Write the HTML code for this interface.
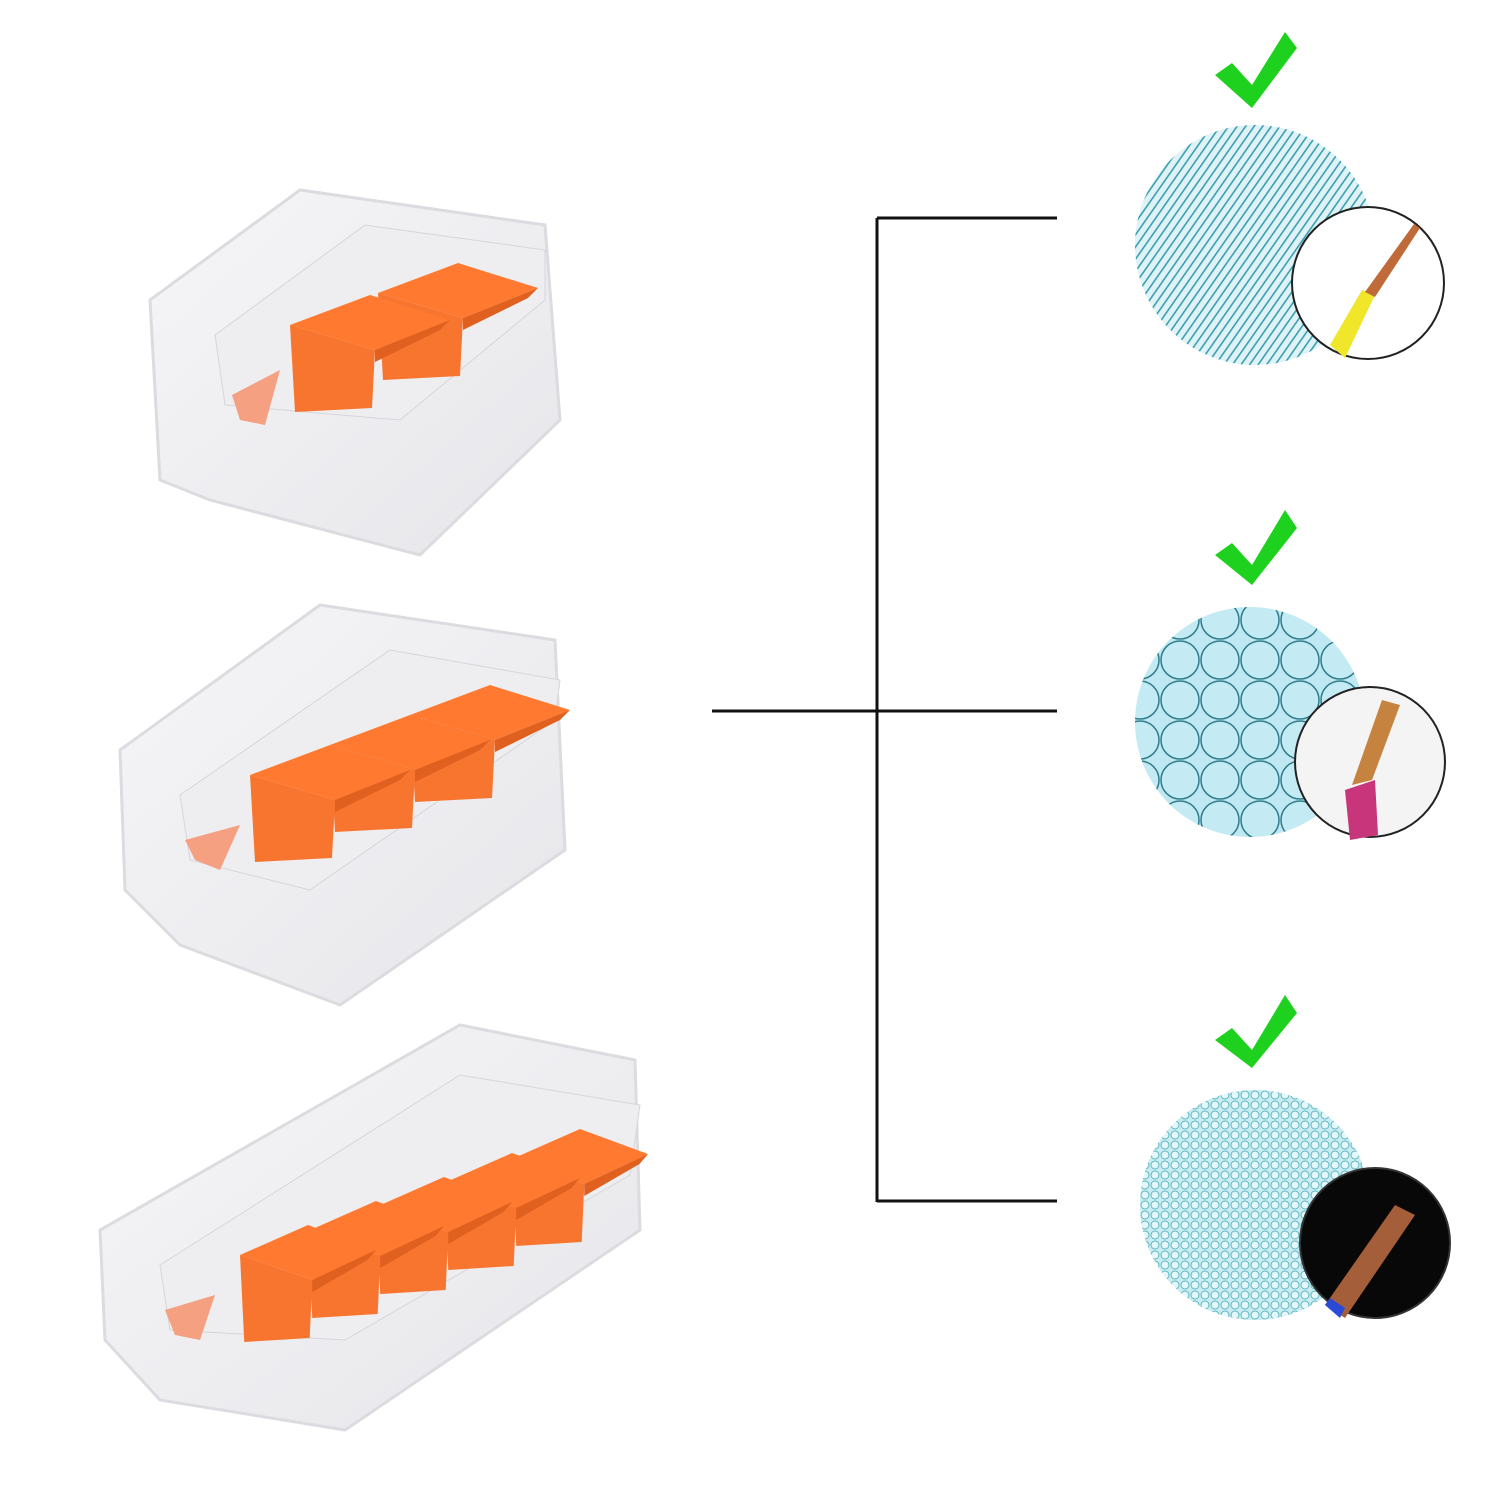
<!DOCTYPE html>
<html><head><meta charset="utf-8"><style>
html,body{margin:0;padding:0;background:#fff;width:1500px;height:1500px;overflow:hidden}
</style></head><body>
<svg width="1500" height="1500" viewBox="0 0 1500 1500" xmlns="http://www.w3.org/2000/svg">
<defs>
<pattern id="stripes" width="7" height="7" patternUnits="userSpaceOnUse" patternTransform="rotate(35)">
<rect width="7" height="7" fill="#dff3f7"/><rect width="1.6" height="7" fill="#3a9fb0"/>
</pattern>
<pattern id="circ" width="40" height="40" patternUnits="userSpaceOnUse">
<rect width="40" height="40" fill="#bfe8f2"/>
<circle cx="20" cy="20" r="19" fill="#c4eaf3" stroke="#2d7d8a" stroke-width="1.5"/>
</pattern>
<pattern id="hex" width="10" height="10" patternUnits="userSpaceOnUse">
<rect width="10" height="10" fill="#c9ecf1"/>
<circle cx="5" cy="5" r="4" fill="#e4f7fa" stroke="#5eb6c2" stroke-width="1"/>
</pattern>
<linearGradient id="body" x1="0" y1="0" x2="1" y2="1">
<stop offset="0" stop-color="#f6f6f8"/><stop offset="1" stop-color="#e6e6ea"/>
</linearGradient>
<g id="tab">
<path d="M0,-45 L80,-75 L160,-50 L85,-20 Z" fill="#ff7a30"/>
<path d="M0,-45 L85,-20 L82,38 L5,42 Z" fill="#f87530"/>
<path d="M85,-20 L160,-50 L150,-40 L85,-8 Z" fill="#e0601f"/>
</g>
</defs>

<!-- lines -->
<g stroke="#111" stroke-width="3" fill="none">
<line x1="877" y1="218" x2="877" y2="1202"/>
<line x1="877" y1="218" x2="1057" y2="218"/>
<line x1="712" y1="711" x2="1057" y2="711"/>
<line x1="877" y1="1201" x2="1057" y2="1201"/>
</g>

<!-- checkmarks -->
<g fill="#1fd11f">
<path d="M1215,75 L1232,63 L1252,85 L1285,32 L1297,48 L1252,108 Z"/>
<path d="M1215,555 L1232,543 L1252,565 L1285,510 L1297,528 L1252,585 Z"/>
<path d="M1215,1040 L1232,1028 L1252,1050 L1285,995 L1297,1013 L1252,1068 Z"/>
</g>

<!-- circles top -->
<circle cx="1255" cy="245" r="120" fill="url(#stripes)"/>
<circle cx="1368" cy="283" r="76" fill="#fff" stroke="#222" stroke-width="2"/>
<path d="M1330,345 L1345,358 L1375,295 L1362,290 Z" fill="#f0e62a"/>
<path d="M1365,292 L1375,297 L1420,228 L1414,224 Z" fill="#c06a3a"/>
<!-- middle -->
<circle cx="1250" cy="722" r="115" fill="url(#circ)"/>
<circle cx="1370" cy="762" r="75" fill="#f4f4f4" stroke="#222" stroke-width="2"/>
<path d="M1345,790 L1375,780 L1378,835 L1350,840 Z" fill="#c9357a"/>
<path d="M1352,785 L1372,780 L1400,705 L1382,700 Z" fill="#c6823f"/>
<!-- bottom -->
<circle cx="1255" cy="1205" r="115" fill="url(#hex)"/>
<circle cx="1375" cy="1243" r="75" fill="#080808" stroke="#333" stroke-width="2"/>
<path d="M1325,1305 L1345,1318 L1415,1215 L1395,1205 Z" fill="#a55e3a"/>
<path d="M1325,1305 L1340,1318 L1345,1308 L1330,1298 Z" fill="#2b4bd6"/>

<!-- connector 1 -->
<path d="M150,300 L300,190 L545,225 L560,420 L420,555 L210,500 L160,480 Z" fill="url(#body)" stroke="#dcdce0" stroke-width="3"/>
<path d="M215,335 L365,225 L545,250 L545,300 L400,420 L225,405 Z" fill="#eeeef1" stroke="#d6d6da"/>
<path d="M232,395 L280,370 L265,425 L240,420 Z" fill="#f5a080"/>
<use href="#tab" transform="translate(378,338)"/>
<use href="#tab" transform="translate(290,370)"/>

<!-- connector 2 -->
<path d="M120,750 L320,605 L555,640 L565,850 L340,1005 L180,945 L125,890 Z" fill="url(#body)" stroke="#dcdce0" stroke-width="3"/>
<path d="M180,795 L390,650 L560,680 L555,720 L310,890 L190,860 Z" fill="#eeeef1" stroke="#d6d6da"/>
<path d="M185,840 L240,825 L220,870 L195,860 Z" fill="#f5a080"/>
<use href="#tab" transform="translate(410,760)"/>
<use href="#tab" transform="translate(330,790)"/>
<use href="#tab" transform="translate(250,820)"/>

<!-- connector 3 -->
<path d="M100,1230 L460,1025 L635,1060 L640,1230 L345,1430 L160,1400 L105,1340 Z" fill="url(#body)" stroke="#dcdce0" stroke-width="3"/>
<path d="M160,1265 L460,1075 L640,1105 L630,1175 L345,1340 L170,1330 Z" fill="#eeeef1" stroke="#d6d6da"/>
<path d="M165,1310 L215,1295 L200,1340 L175,1335 Z" fill="#f5a080"/>
<use href="#tab" transform="translate(512,1204) scale(0.85,1)"/>
<use href="#tab" transform="translate(444,1228) scale(0.85,1)"/>
<use href="#tab" transform="translate(376,1252) scale(0.85,1)"/>
<use href="#tab" transform="translate(308,1276) scale(0.85,1)"/>
<use href="#tab" transform="translate(240,1300) scale(0.85,1)"/>
</svg>
</body></html>
